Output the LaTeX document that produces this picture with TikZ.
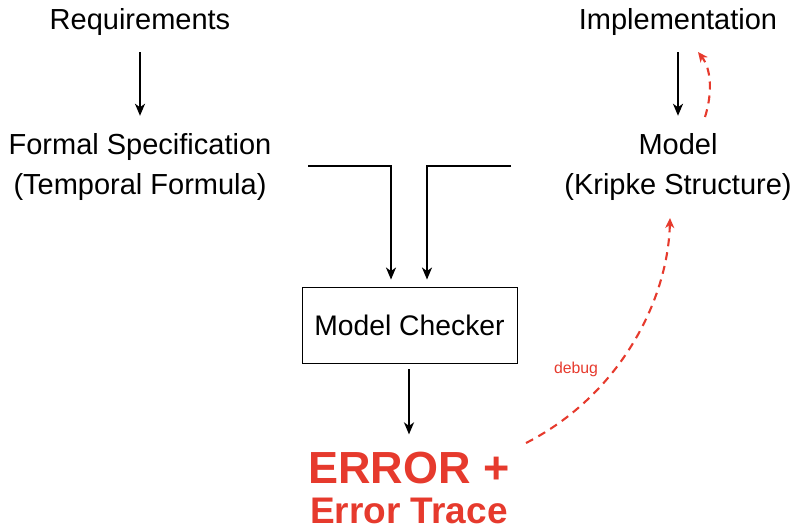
\documentclass[tikz,border=0pt]{standalone}
\usepackage{fontspec}
\setmainfont{Liberation Sans}
\usetikzlibrary{arrows.meta}
\definecolor{errred}{RGB}{230,58,45}
\begin{document}
\begin{tikzpicture}[x=1pt,y=-1pt,
  lbl/.style={inner sep=0pt, font=\fontsize{29}{40}\selectfont, align=center},
  flow/.style={line width=1.9pt, -{Stealth[length=12pt,width=10pt,inset=3.5pt]}},
  dbg/.style={errred, line width=2.1pt, dash pattern=on 8pt off 6pt,
              -{Stealth[length=10pt,width=9pt,inset=3pt]}}]
\useasboundingbox (0,0) rectangle (793,527);

% text blocks (two-line nodes sit on the baseline of their last line)
\node[lbl, anchor=base] (req)   at (140,30)  {Requirements};
\node[lbl, anchor=base] (impl)  at (678,30)  {Implementation};
\node[lbl, anchor=base] (spec)  at (140,194) {Formal Specification\\(Temporal Formula)};
\node[lbl, anchor=base] (model) at (678,194) {Model\\(Kripke Structure)};
\node[draw, line width=0.9pt, minimum width=215pt, minimum height=76pt,
      inner sep=0pt, font=\fontsize{28.3}{32}\selectfont] (mc) at (409.5,325) {Model Checker};
\node[anchor=base, inner sep=0pt, text=errred,
      font=\bfseries\fontsize{45}{50}\selectfont] (err) at (409,483) {ERROR +};
\node[anchor=base, inner sep=0pt, text=errred,
      font=\bfseries\fontsize{37}{40}\selectfont] (trace) at (409,523) {Error Trace};

% main flow
\draw[flow, shorten <=16pt, shorten >=17pt] (req) -- (spec);
\draw[flow, shorten <=16pt, shorten >=17pt] (impl) -- (model);
\coordinate (specOut)  at (308,166);
\coordinate (modelOut) at (511,166);
\draw[flow, shorten >=7pt] (specOut) -| ([xshift=-18.5pt]mc.north);
\draw[flow, shorten >=7pt] (modelOut) -| ([xshift=17.5pt]mc.north);
\draw[flow, shorten <=6pt, shorten >=17pt] ([xshift=-0.5pt]mc.south) -- (err.north);

% debug loop
\coordinate (dbgFrom) at (526,443);
\coordinate (dbgTo)   at (670,218);
\draw[dbg] (dbgFrom) .. controls (620,395) and (668,300) .. (dbgTo);
\node[anchor=base, inner sep=0pt, text=errred, font=\fontsize{15.8}{18}\selectfont]
  (dbglbl) at (576,373) {debug};
\coordinate (refFrom) at (705,117);
\coordinate (refTo)   at (698,52);
\draw[dbg] (refFrom) .. controls (712,95) and (712,70) .. (refTo);
\end{tikzpicture}
\end{document}
